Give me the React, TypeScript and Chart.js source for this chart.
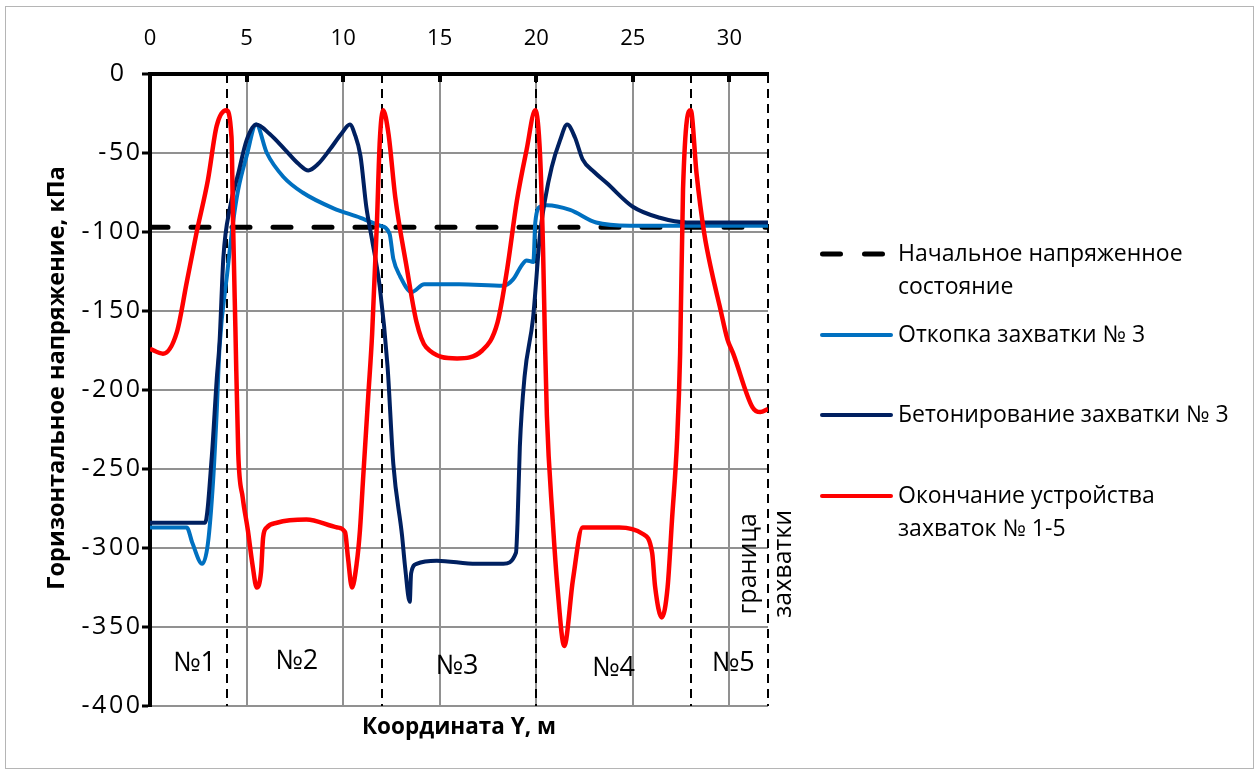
import React, { useEffect, useRef } from "react";
import { Chart, registerables } from "chart.js";

Chart.register(...registerables);

const FONT = "'Open Sans', 'Noto Sans', sans-serif";

// ---- axes ----
const xMin = 0;
const xMax = 32;
const xStep = 5;
const yMin = -400;
const yMax = 0;
const yStep = 50;

// ---- boundaries of the sections (dashed verticals) ----
const boundaryX = [4, 12, 20, 28, 32];

// ---- initial stress state ----
const initialX = [0, 32];
const initialY = [-97, -97];

// ---- excavation of section 3 ----
const excavX = [0, 1.0, 1.9, 2.2, 2.7, 3.0, 3.27, 3.45, 3.6, 4.0, 4.3, 4.57, 5.0, 5.5, 6.05, 6.9, 7.9, 9.5, 10.9, 11.9, 12.4, 12.6, 12.95, 13.55, 14.2, 16.0, 18.3, 18.8, 19.25, 19.5, 19.85, 19.95, 20.2, 20.55, 21.75, 23.1, 24.85, 27.8, 32];
const excavY = [-287, -287, -287, -297, -310, -297, -257, -215, -173, -126, -94, -73, -52, -32, -50, -65, -75, -85, -91, -96, -101, -117, -128, -138, -133, -133, -134, -130, -121, -118, -119, -94, -84, -83, -86, -94, -96, -96, -96];

// ---- concreting of section 3 ----
const concreteX = [0, 1.5, 2.85, 3.2, 3.45, 3.6, 3.8, 4.15, 4.57, 5.0, 5.5, 6.2, 7.0, 7.7, 8.2, 8.7, 9.3, 9.9, 10.35, 10.6, 10.9, 11.2, 11.5, 11.9, 12.3, 12.6, 13.05, 13.2, 13.45, 13.52, 13.8, 14.85, 16.9, 18.3, 18.95, 19.03, 19.15, 19.4, 19.83, 20.2, 20.45, 20.8, 21.23, 21.6, 22.0, 22.4, 23.0, 23.65, 25.0, 26.4, 27.8, 32];
const concreteY = [-284, -284, -284, -242, -194, -170, -116, -84, -63, -42, -32, -38, -48, -57, -61, -57, -48, -38, -32, -38, -52, -84, -105, -135, -185, -247, -292, -311, -334, -316, -310, -308, -310, -310, -303, -284, -236, -191, -155, -101, -80, -59, -42, -32, -40, -54, -62, -69, -84, -91, -94, -94];

// ---- end of construction of sections 1-5 ----
const finalX = [0, 0.67, 1.4, 1.9, 2.4, 3.0, 3.45, 3.95, 4.22, 4.3, 4.42, 4.57, 4.8, 5.07, 5.3, 5.53, 5.75, 5.86, 6.05, 6.57, 8.1, 9.7, 10.1, 10.25, 10.46, 10.7, 10.87, 11.03, 11.3, 11.5, 11.75, 11.9, 12.07, 12.35, 12.7, 13.3, 13.8, 14.3, 15.9, 17.2, 18.0, 18.5, 19.0, 19.5, 19.95, 20.2, 20.35, 20.45, 20.55, 20.85, 21.1, 21.45, 21.9, 22.4, 24.3, 25.5, 26.0, 26.15, 26.5, 26.8, 27.03, 27.3, 27.45, 27.6, 28.0, 28.3, 28.7, 29.1, 29.5, 29.9, 30.2, 31.2, 31.6, 32];
const finalY = [-174, -177, -163, -132, -101, -67, -33, -23, -40, -94, -160, -240, -268, -289, -310, -325, -315, -293, -287, -284, -282, -287, -290, -306, -325, -310, -289, -257, -204, -165, -94, -42, -23, -38, -78, -123, -157, -173, -180, -175, -157, -123, -80, -48, -23, -52, -110, -168, -216, -282, -325, -362, -320, -287, -287, -291, -303, -324, -344, -325, -282, -230, -177, -73, -23, -63, -101, -126, -147, -168, -177, -211, -214, -212];

// ---- texts ----
const legendLabels = [
  ["Начальное напряженное", "состояние"],
  ["Откопка захватки № 3"],
  ["Бетонирование захватки № 3"],
  ["Окончание устройства", "захваток № 1-5"],
];
const yTitle = "Горизонтальное напряжение, кПа";
const xTitle = "Координата Y, м";
const zoneNames = ["№1", "№2", "№3", "№4", "№5"];
const zoneX = [2.3, 7.6, 15.9, 24.0, 30.2];
const zoneY = [-373, -372, -375, -376, -373];
const boundaryNote = ["граница", "захватки"];
const boundaryNoteX = 31.9;
const boundaryNoteY = -310;

const COLORS = ["#000000", "#0070C0", "#002060", "#FF0000"];

const pts = (xs: number[], ys: number[]) => xs.map((x, i) => ({ x, y: ys[i] }));

const decorPlugin = {
  id: "decor",
  beforeDraw(chart: any) {
    const { ctx, width, height } = chart;
    ctx.save();
    ctx.fillStyle = "#ffffff";
    ctx.fillRect(0, 0, width, height);
    ctx.strokeStyle = "#b5b5b5";
    ctx.lineWidth = 1;
    ctx.strokeRect(5.5, 6.5, 1248, 762);
    ctx.restore();
  },
  beforeDatasetsDraw(chart: any) {
    const { ctx, chartArea, scales } = chart;
    ctx.save();
    ctx.strokeStyle = "#000";
    ctx.lineWidth = 2;
    ctx.setLineDash([9, 6]);
    boundaryX.forEach((bx) => {
      const px = Math.round(scales.x.getPixelForValue(bx));
      ctx.beginPath();
      ctx.moveTo(px, chartArea.top);
      ctx.lineTo(px, chartArea.bottom);
      ctx.stroke();
    });
    ctx.restore();
  },
  afterDraw(chart: any) {
    const { ctx, chartArea, scales } = chart;
    ctx.save();
    // inward ticks on top axis
    ctx.strokeStyle = "#000";
    ctx.lineWidth = 4;
    for (let v = xMin + xStep; v < xMax; v += xStep) {
      const px = Math.round(scales.x.getPixelForValue(v));
      ctx.beginPath();
      ctx.moveTo(px, chartArea.top);
      ctx.lineTo(px, chartArea.top + 8);
      ctx.stroke();
    }
    ctx.fillStyle = "#000";
    ctx.textBaseline = "middle";
    // y tick labels (slightly larger and wider, as in the original)
    ctx.save();
    ctx.font = `25px ${FONT}`;
    ctx.textAlign = "right";
    (ctx as any).letterSpacing = "2.5px";
    scales.y.ticks.forEach((t: any) => {
      const py = scales.y.getPixelForValue(t.value);
      ctx.fillText(String(t.label), t.value === 0 ? 126.5 : 142.5, py);
    });
    ctx.restore();
    ctx.textAlign = "center";
    // zone labels
    ctx.save();
    ctx.font = `27px ${FONT}`;
    zoneNames.forEach((n, i) => {
      ctx.fillText(n, scales.x.getPixelForValue(zoneX[i]), scales.y.getPixelForValue(zoneY[i]));
    });
    ctx.restore();
    // boundary note (rotated)
    ctx.save();
    ctx.font = `25px ${FONT}`;
    ctx.translate(scales.x.getPixelForValue(boundaryNoteX), scales.y.getPixelForValue(boundaryNoteY));
    ctx.rotate(-Math.PI / 2);
    ctx.fillText(boundaryNote[0], 0, -17);
    ctx.fillText(boundaryNote[1], 0, 18);
    ctx.restore();
    // axis titles
    ctx.font = `bold 22.5px ${FONT}`;
    ctx.fillText(xTitle, (chartArea.left + chartArea.right) / 2, 728);
    ctx.save();
    ctx.font = `bold 23.5px ${FONT}`;
    ctx.translate(57, 378);
    ctx.rotate(-Math.PI / 2);
    ctx.fillText(yTitle, 0, 0);
    ctx.restore();
    // legend
    const rowY = [254, 335, 415, 496];
    ctx.textAlign = "left";
    ctx.font = `23px ${FONT}`;
    legendLabels.forEach((lines, i) => {
      const y = rowY[i];
      ctx.save();
      ctx.strokeStyle = COLORS[i];
      ctx.lineCap = "round";
      if (i === 0) {
        ctx.lineWidth = 5;
        ctx.setLineDash([18, 24]);
        ctx.beginPath();
        ctx.moveTo(822.5, y);
        ctx.lineTo(885, y);
        ctx.stroke();
      } else {
        ctx.lineWidth = 4;
        ctx.beginPath();
        ctx.moveTo(822, y);
        ctx.lineTo(891, y);
        ctx.stroke();
      }
      ctx.restore();
      lines.forEach((t, j) => ctx.fillText(t, 898, y + j * 33));
    });
    ctx.restore();
  },
};

export default function App() {
  const ref = useRef<HTMLCanvasElement | null>(null);
  useEffect(() => {
    document.body.style.margin = "0";
    const canvas = ref.current!;
    const chart = new Chart(canvas, {
      type: "line",
      data: {
        datasets: [
          {
            label: legendLabels[0].join(" "),
            data: pts(initialX, initialY),
            borderColor: COLORS[0],
            borderWidth: 5,
            borderDash: [18, 23],
            borderCapStyle: "round",
            pointRadius: 0,
            order: 3,
          },
          {
            label: legendLabels[1].join(" "),
            data: pts(excavX, excavY),
            borderColor: COLORS[1],
            borderWidth: 4,
            cubicInterpolationMode: "monotone",
            pointRadius: 0,
            order: 2,
          },
          {
            label: legendLabels[2].join(" "),
            data: pts(concreteX, concreteY),
            borderColor: COLORS[2],
            borderWidth: 4,
            cubicInterpolationMode: "monotone",
            pointRadius: 0,
            order: 1,
          },
          {
            label: legendLabels[3].join(" "),
            data: pts(finalX, finalY),
            borderColor: COLORS[3],
            borderWidth: 4.5,
            cubicInterpolationMode: "monotone",
            pointRadius: 0,
            order: 0,
          },
        ],
      },
      options: {
        animation: false,
        responsive: false,
        events: [],
        layout: { padding: { left: 0, top: 0, right: 1259 - 768, bottom: 774 - 706 } },
        plugins: { legend: { display: false }, tooltip: { enabled: false } },
        scales: {
          x: {
            type: "linear",
            position: "top",
            min: xMin,
            max: xMax,
            afterBuildTicks: (s: any) => {
              s.ticks = s.ticks.filter((t: any) => t.value % xStep === 0);
            },
            afterFit: (s: any) => {
              s.height = 74;
            },
            ticks: { stepSize: xStep, color: "#000", font: { family: FONT, size: 22 }, padding: 22, maxRotation: 0 },
            grid: { color: "#919191", lineWidth: 2, drawTicks: false },
            border: { color: "#000", width: 4 },
          },
          y: {
            type: "linear",
            min: yMin,
            max: yMax,
            afterFit: (s: any) => {
              s.width = 150;
            },
            ticks: { stepSize: yStep, display: false },
            grid: { color: "#919191", lineWidth: 2, drawTicks: true, tickLength: 8, tickColor: "#000", tickWidth: 3 },
            border: { color: "#000", width: 4 },
          },
        },
      },
      plugins: [decorPlugin],
    } as any);
    return () => chart.destroy();
  }, []);
  return (
    <div style={{ position: "absolute", left: 0, top: 0, width: 1259, height: 774 }}>
      <canvas ref={ref} width={1259} height={774} />
    </div>
  );
}
